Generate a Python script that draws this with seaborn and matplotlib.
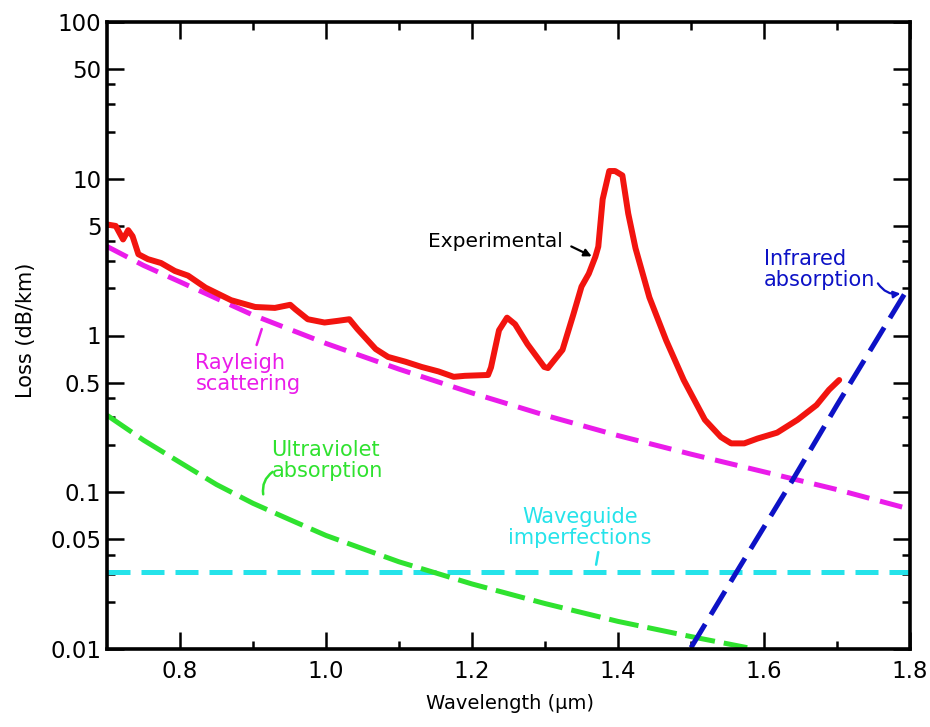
import matplotlib
matplotlib.use("Agg")
import matplotlib.pyplot as plt
import seaborn as sns
import pandas as pd
from matplotlib.ticker import FixedLocator, FixedFormatter, NullFormatter

# ---------------- data ----------------
exp_wl = [0.701, 0.712, 0.722, 0.729, 0.735, 0.743, 0.756, 0.774, 0.793, 0.811,
          0.835, 0.870, 0.903, 0.930, 0.951, 0.958, 0.975, 0.998, 1.016, 1.032,
          1.043, 1.068, 1.085, 1.109, 1.131, 1.154, 1.175, 1.190, 1.222, 1.226,
          1.237, 1.248, 1.259, 1.276, 1.299, 1.304, 1.324, 1.339, 1.350, 1.360,
          1.369, 1.373, 1.379, 1.388, 1.396, 1.406, 1.414, 1.424, 1.443, 1.466,
          1.490, 1.519, 1.541, 1.555, 1.573, 1.591, 1.618, 1.646, 1.672, 1.689,
          1.703]
exp_loss = [5.1, 5.0, 4.1, 4.7, 4.3, 3.3, 3.07, 2.9, 2.58, 2.41,
            2.02, 1.68, 1.52, 1.50, 1.57, 1.47, 1.27, 1.21, 1.24, 1.27,
            1.10, 0.82, 0.73, 0.68, 0.63, 0.59, 0.545, 0.553, 0.56, 0.625,
            1.08, 1.30, 1.18, 0.88, 0.63, 0.62, 0.81, 1.37, 2.05, 2.48,
            3.18, 3.69, 7.4, 11.2, 11.2, 10.5, 6.0, 3.6, 1.75, 0.93,
            0.52, 0.29, 0.225, 0.205, 0.205, 0.22, 0.24, 0.29, 0.36, 0.45,
            0.52]

ray_wl = [0.70, 0.75, 0.80, 0.90, 1.00, 1.10, 1.20, 1.30, 1.40, 1.50, 1.60, 1.70, 1.80]
ray_loss = [3.7, 2.8, 2.2, 1.35, 0.89, 0.61, 0.43, 0.31, 0.23, 0.175, 0.135, 0.104, 0.078]

uv_wl = [0.70, 0.75, 0.80, 0.85, 0.90, 0.95, 1.00, 1.10, 1.20, 1.30, 1.40, 1.50, 1.577]
uv_loss = [0.31, 0.215, 0.155, 0.112, 0.085, 0.067, 0.053, 0.036, 0.026, 0.0195, 0.015, 0.012, 0.0102]

wg_wl = [0.70, 1.80]
wg_loss = [0.031, 0.031]

ir_wl = [1.50, 1.566, 1.637, 1.70, 1.80]
ir_loss = [0.0102, 0.033, 0.115, 0.36, 2.1]

y_major = [0.01, 0.05, 0.1, 0.5, 1, 5, 10, 50, 100]
y_major_labels = ["0.01", "0.05", "0.1", "0.5", "1", "5", "10", "50", "100"]
y_minor = [0.02, 0.03, 0.04, 0.2, 0.3, 0.4, 2, 3, 4, 20, 30, 40]
x_major = [0.8, 1.0, 1.2, 1.4, 1.6, 1.8]
x_major_labels = ["0.8", "1.0", "1.2", "1.4", "1.6", "1.8"]
x_minor = [0.9, 1.1, 1.3, 1.5, 1.7]

# ---------------- style ----------------
sns.set_theme(style="ticks")
plt.rcParams["font.family"] = ["DejaVu Sans"]

RED = "#f2140f"
MAGENTA = "#ea1cea"
GREEN = "#2fe22f"
CYAN = "#25e3ea"
BLUE = "#0d12c6"

fig = plt.figure(figsize=(9.3, 7.27), dpi=100)
ax = fig.add_axes([107 / 930, 1 - 649 / 727, (910 - 107) / 930, (649 - 22) / 727])

def draw(wl, loss, color, lw, ls):
    df = pd.DataFrame({"wl": wl, "loss": loss})
    sns.lineplot(data=df, x="wl", y="loss", ax=ax, color=color, linewidth=lw,
                 linestyle=ls, estimator=None, sort=True, legend=False)

draw(wg_wl, wg_loss, CYAN, 3.6, (0, (4.6, 2.2)))
draw(uv_wl, uv_loss, GREEN, 3.6, (0, (6.0, 1.8)))
draw(ray_wl, ray_loss, MAGENTA, 3.6, (0, (4.6, 2.2)))
draw(ir_wl, ir_loss, BLUE, 3.6, (0, (5.5, 2.2)))
draw(exp_wl, exp_loss, RED, 4.3, "-")

ax.set_yscale("log")
ax.set_xlim(0.7, 1.8)
ax.set_ylim(0.01, 100)

ax.yaxis.set_major_locator(FixedLocator(y_major))
ax.yaxis.set_major_formatter(FixedFormatter(y_major_labels))
ax.yaxis.set_minor_locator(FixedLocator(y_minor))
ax.yaxis.set_minor_formatter(NullFormatter())
ax.xaxis.set_major_locator(FixedLocator(x_major))
ax.xaxis.set_major_formatter(FixedFormatter(x_major_labels))
ax.xaxis.set_minor_locator(FixedLocator(x_minor))
ax.xaxis.set_minor_formatter(NullFormatter())

ax.tick_params(which="both", direction="in", top=True, right=True, color="black",
               width=1.8, labelsize=16.5, labelcolor="black")
ax.tick_params(which="major", length=12)
ax.tick_params(which="minor", length=6)
ax.tick_params(axis="x", pad=8)
ax.tick_params(axis="y", pad=4)
for s in ax.spines.values():
    s.set_linewidth(2.6)
    s.set_color("black")

ax.set_xlabel("Wavelength (µm)", fontsize=14, color="black")
ax.set_ylabel("Loss (dB/km)", fontsize=15, color="black")
ax.xaxis.set_label_coords(0.502, -0.072)
ax.yaxis.set_label_coords(-0.088, 0.509)

# ---------------- annotations ----------------
ax.text(1.140, 4.0, "Experimental", color="black", fontsize=14.5, ha="left", va="center")
ax.annotate("", xy=(1.364, 3.2), xytext=(1.336, 3.7),
            arrowprops=dict(arrowstyle="-|>", color="black", lw=1.6, mutation_scale=11,
                            shrinkA=0, shrinkB=0))

ax.text(1.600, 2.65, "Infrared\nabsorption", color=BLUE, fontsize=15, ha="left",
        va="center", linespacing=1.05)
ax.annotate("", xy=(1.787, 1.85), xytext=(1.756, 2.15),
            arrowprops=dict(arrowstyle="-|>", color=BLUE, lw=1.6, mutation_scale=10,
                            shrinkA=0, shrinkB=0, connectionstyle="arc3,rad=0.3"))

ax.text(0.821, 0.573, "Rayleigh\nscattering", color=MAGENTA, fontsize=15, ha="left",
        va="center", linespacing=1.05)
ax.annotate("", xy=(0.912, 1.1), xytext=(0.905, 0.87),
            arrowprops=dict(arrowstyle="-", color=MAGENTA, lw=1.8, shrinkA=0, shrinkB=0))

ax.text(0.925, 0.159, "Ultraviolet\nabsorption", color=GREEN, fontsize=15, ha="left",
        va="center", linespacing=1.05)
ax.annotate("", xy=(0.914, 0.097), xytext=(0.927, 0.135),
            arrowprops=dict(arrowstyle="-", color=GREEN, lw=1.8, shrinkA=0, shrinkB=0,
                            connectionstyle="arc3,rad=0.3"))

ax.text(1.348, 0.0597, "Waveguide\nimperfections", color=CYAN, fontsize=15, ha="center",
        va="center", linespacing=1.05, multialignment="center")
ax.annotate("", xy=(1.370, 0.0345), xytext=(1.373, 0.0415),
            arrowprops=dict(arrowstyle="-", color=CYAN, lw=1.8, shrinkA=0, shrinkB=0))

fig.savefig("out.png", dpi=100, facecolor="white")
